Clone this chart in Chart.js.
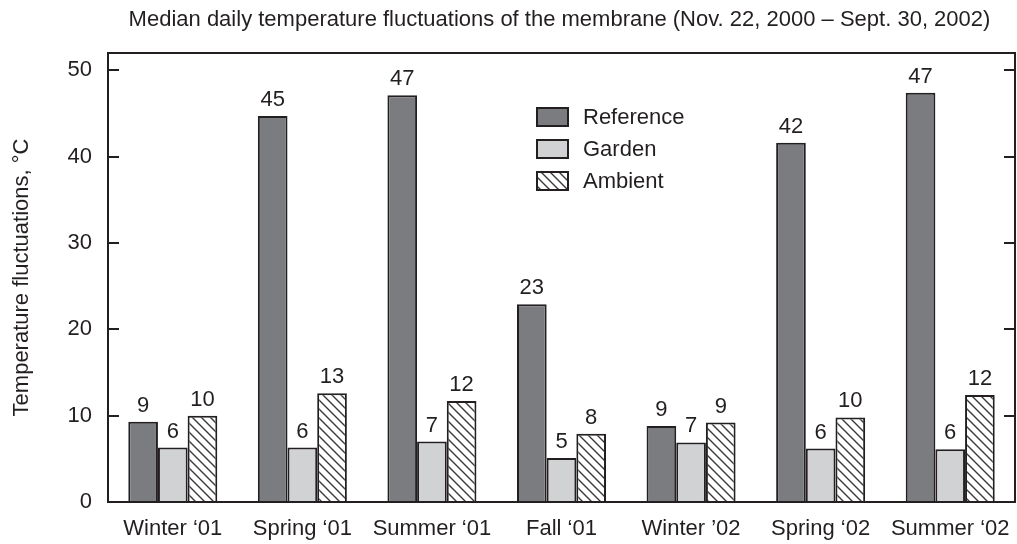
<!DOCTYPE html>
<html lang="en">
<head>
    <meta charset="UTF-8">
    <title>Median daily temperature fluctuations of the membrane</title>
    <script src="https://cdn.jsdelivr.net/npm/chart.js@4.4.1/dist/chart.umd.min.js"></script>
    <style>
        html, body {
            margin: 0;
            padding: 0;
            background: #ffffff;
        }
        .wrap {
            width: 1017px;
            height: 544px;
        }
    </style>
</head>
<body>
    <div class="wrap">
        <canvas id="tempChart" width="1017" height="544"></canvas>
    </div>

    <script>
        // values
        const seasons = ['Winter \u201801', 'Spring \u201801', 'Summer \u201801', 'Fall \u201801', 'Winter \u201902', 'Spring \u201802', 'Summer \u201802'];
        const referenceValues = [9.3, 44.7, 47.1, 22.9, 8.8, 41.6, 47.4];
        const gardenValues = [6.3, 6.3, 7.0, 5.1, 6.9, 6.2, 6.1];
        const ambientValues = [10.0, 12.6, 11.7, 7.9, 9.2, 9.8, 12.4];
        const yTicks = [0, 10, 20, 30, 40, 50];

        const ink = '#231f20';
        const font = "'Liberation Sans', Arial, sans-serif";

        // diagonal hatch for the ambient bars
        function makeHatch() {
            const c = document.createElement('canvas');
            c.width = 9;
            c.height = 9;
            const g = c.getContext('2d');
            g.fillStyle = '#ffffff';
            g.fillRect(0, 0, 9, 9);
            g.strokeStyle = '#3a3a3a';
            g.lineWidth = 1.4;
            g.beginPath();
            g.moveTo(-1, -1); g.lineTo(10, 10);
            g.moveTo(-1, 8); g.lineTo(1, 10);
            g.moveTo(8, -1); g.lineTo(10, 1);
            g.stroke();
            return g.createPattern(c, 'repeat');
        }
        const hatch = makeHatch();

        const framePlugin = {
            id: 'frame',
            afterDraw(chart) {
                const { ctx, chartArea: a, scales } = chart;
                ctx.save();
                ctx.strokeStyle = ink;
                ctx.lineWidth = 2;
                ctx.strokeRect(a.left, a.top, a.right - a.left, a.bottom - a.top);
                ctx.beginPath();
                yTicks.forEach(v => {
                    if (v === 0) return;
                    const y = Math.round(scales.y.getPixelForValue(v));
                    ctx.moveTo(a.left, y); ctx.lineTo(a.left + 11, y);
                    ctx.moveTo(a.right, y); ctx.lineTo(a.right - 11, y);
                });
                ctx.stroke();

                // title
                ctx.fillStyle = ink;
                ctx.font = '22px ' + font;
                ctx.textAlign = 'center';
                ctx.textBaseline = 'middle';
                ctx.fillText('Median daily temperature fluctuations of the membrane (Nov. 22, 2000 \u2013 Sept. 30, 2002)', (a.left + a.right) / 2 - 2, 20);

                // legend
                const lx = a.left + 429;
                let ly = 108;
                ctx.font = '22px ' + font;
                ctx.textAlign = 'left';
                chart.data.datasets.forEach(ds => {
                    ctx.fillStyle = ds.backgroundColor;
                    ctx.fillRect(lx, ly, 31, 18);
                    ctx.lineWidth = 2;
                    ctx.strokeStyle = ink;
                    ctx.strokeRect(lx, ly, 31, 18);
                    ctx.fillStyle = ink;
                    ctx.fillText(ds.label, lx + 46, ly + 10);
                    ly += 32;
                });
                ctx.restore();
            },
            afterDatasetsDraw(chart) {
                const { ctx } = chart;
                ctx.save();
                ctx.fillStyle = ink;
                ctx.font = '22px ' + font;
                ctx.textAlign = 'center';
                ctx.textBaseline = 'bottom';
                chart.data.datasets.forEach((ds, i) => {
                    chart.getDatasetMeta(i).data.forEach((bar, j) => {
                        ctx.fillText(Math.round(ds.data[j]), bar.x, bar.y - 5);
                    });
                });
                ctx.restore();
            }
        };

        const barCommon = {
            borderColor: ink,
            borderWidth: 2,
            categoryPercentage: 0.687,
            barPercentage: 1.0
        };

        new Chart(document.getElementById('tempChart'), {
            type: 'bar',
            data: {
                labels: seasons,
                datasets: [
                    Object.assign({ label: 'Reference', data: referenceValues, backgroundColor: '#7b7c7f' }, barCommon),
                    Object.assign({ label: 'Garden', data: gardenValues, backgroundColor: '#d1d2d4' }, barCommon),
                    Object.assign({ label: 'Ambient', data: ambientValues, backgroundColor: hatch }, barCommon)
                ]
            },
            options: {
                responsive: false,
                animation: false,
                layout: { padding: { top: 53, right: 2, left: 0, bottom: 0 } },
                plugins: {
                    legend: { display: false },
                    title: { display: false },
                    tooltip: { enabled: false }
                },
                scales: {
                    x: {
                        grid: { display: false, drawTicks: false },
                        border: { display: false },
                        ticks: { color: ink, font: { size: 22, family: font }, padding: 14, maxRotation: 0 },
                        afterFit(scale) {
                            scale.height = 42;
                            scale.paddingLeft = 0;
                            scale.paddingRight = 0;
                        }
                    },
                    y: {
                        min: 0,
                        max: 52,
                        afterBuildTicks(scale) { scale.ticks = yTicks.map(v => ({ value: v })); },
                        grid: { display: false, drawTicks: false },
                        border: { display: false },
                        ticks: { color: ink, font: { size: 22, family: font }, padding: 16 },
                        title: {
                            display: true,
                            text: 'Temperature fluctuations, \u00b0C',
                            color: ink,
                            font: { size: 22, family: font },
                            padding: { top: 9, bottom: 12 }
                        },
                        afterFit(scale) {
                            scale.width = 108;
                            scale.paddingTop = 0;
                            scale.paddingBottom = 0;
                        }
                    }
                }
            },
            plugins: [framePlugin]
        });
    </script>
</body>
</html>
